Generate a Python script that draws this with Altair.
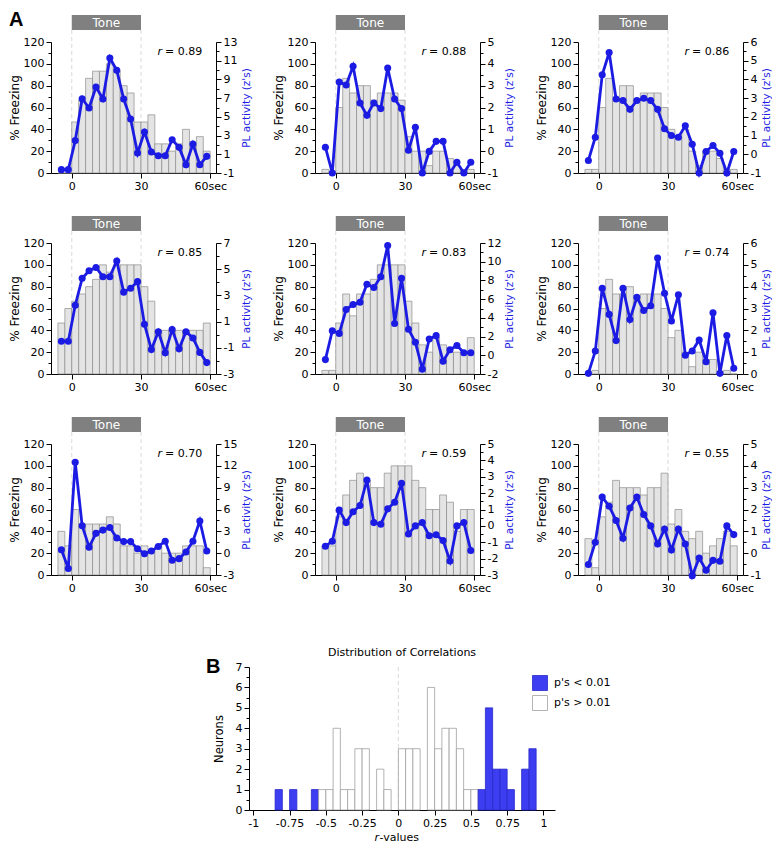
import altair as alt
import pandas as pd

# ---------------- data: panel A ----------------
bin_start = [-6, -3, 0, 3, 6, 9, 12, 15, 18, 21, 24, 27, 30, 33, 36, 39, 42, 45, 48, 51, 54, 57]
tone_start = 0
tone_end = 30
x_tick_values = [0, 30, 60]
freeze_tick_values = [0, 10, 20, 30, 40, 50, 60, 70, 80, 90, 100, 110, 120]

r_labels = ["0.89", "0.88", "0.86", "0.85", "0.83", "0.74", "0.70", "0.59", "0.55"]
pl_domains = [[-1, 13], [-1, 5], [-1, 6], [-3, 7], [-2, 12], [0, 6], [-3, 15], [-3, 5], [-1, 5]]
pl_label_steps = [2, 1, 1, 2, 2, 1, 3, 1, 1]

freeze_1 = [0, 0, 46.7, 66.7, 86.7, 93.3, 93.3, 100, 93.3, 80, 73.3, 46.7, 46.7, 53.3, 26.7, 26.7, 20, 26.7, 40, 26.7, 33.3, 20]
pl_1 = [-0.64, -0.64, 2.46, 6.94, 5.95, 8.19, 6.91, 11.29, 9.97, 6.91, 4.77, 1.14, 3.38, 1.24, 0.85, 0.85, 2.56, 1.74, -0.11, 2.10, -0.11, 0.78]

freeze_2 = [3.3, 0, 60, 86.7, 73.3, 80, 80, 66.7, 73.3, 73.3, 73.3, 66.7, 33.3, 20, 20, 6.7, 20, 20, 13.3, 6.7, 3.3, 3.3]
pl_2 = [0.18, -1, 3.17, 3.03, 3.89, 2.21, 1.64, 2.21, 1.95, 3.81, 2.39, 1.95, 0.04, 1.09, -1, -0.01, 0.45, 0.45, -1, -0.51, -1, -0.51]

freeze_3 = [3.3, 3.3, 60, 86.7, 66.7, 80, 80, 66.7, 73.3, 73.3, 73.3, 60, 40, 33.3, 40, 20, 6.7, 20, 20, 13.3, 3.3, 3.3]
pl_3 = [-0.33, 0.91, 4.25, 5.44, 2.95, 2.87, 2.40, 2.87, 2.99, 2.87, 2.40, 1.36, 1.0, 0.91, 1.52, 0.54, -1, 0.15, 0.47, 0.06, -1, 0.15]

freeze_4 = [46.7, 60, 66.7, 73.3, 80, 86.7, 100, 93.3, 100, 100, 100, 100, 80, 66.7, 40, 40, 40, 40, 40, 40, 40, 46.7]
pl_4 = [-0.5, -0.5, 2.25, 4.3, 4.88, 5.13, 4.43, 4.43, 5.63, 3.25, 3.55, 4.05, 0.8, -1.13, 0.23, -1.38, 0.4, -1.08, 0.23, -0.25, -1.35, -2.13]

freeze_5 = [3.3, 3.3, 46.7, 73.3, 53.3, 73.3, 73.3, 86.7, 100, 100, 100, 100, 66.7, 46.7, 26.7, 20, 33.3, 26.7, 20, 20, 20, 33.3]
pl_5 = [-0.46, 2.62, 2.34, 4.9, 5.42, 5.67, 7.59, 7.24, 8.4, 11.72, 3.39, 8.22, 2.79, 1.39, -1.48, 1.74, 2.1, -0.63, 0.59, 1.05, 0.28, 0.28]

freeze_6 = [0, 3.3, 60, 86.7, 73.3, 73.3, 80, 66.7, 73.3, 73.3, 73.3, 60, 33.3, 40, 20, 6.7, 20, 13.3, 13.3, 0, 3.3, 0]
pl_6 = [0.03, 1.05, 3.93, 2.73, 1.53, 3.93, 2.5, 3.51, 2.91, 3.13, 5.31, 3.7, 2.43, 3.63, 0.86, 1.05, 1.56, 0.56, 2.8, 0.03, 1.76, 0.26]

freeze_7 = [40, 26.7, 60, 46.7, 46.7, 46.7, 46.7, 53.3, 46.7, 26.7, 26.7, 20, 26.7, 20, 26.7, 20, 20, 20, 26.7, 26.7, 26.7, 6.7]
pl_7 = [0.47, -2.1, 12.5, 3.76, 0.83, 2.72, 3.17, 3.53, 2.09, 1.59, 1.59, 0.6, -0.07, 0.29, 0.92, 1.64, -0.97, -0.75, 0.15, 1.64, 4.43, 0.29]

freeze_8 = [26.7, 26.7, 53.3, 73.3, 86.7, 93.3, 86.7, 80, 80, 93.3, 100, 100, 100, 86.7, 80, 60, 60, 73.3, 66.7, 40, 60, 60]
pl_8 = [-1.24, -0.94, 0.96, 0.2, 0.86, 1.24, 2.8, 0.2, 0.1, 1.04, 1.44, 2.6, -0.5, 0.0, 0.2, -0.6, -0.54, -0.9, -2.14, 0.0, 0.2, -1.5]

freeze_9 = [33.3, 6.7, 53.3, 66.7, 86.7, 80, 80, 80, 73.3, 80, 80, 93.3, 46.7, 60, 40, 33.3, 40, 20, 26.7, 33.3, 40, 26.7]
pl_9 = [-0.52, 0.5, 2.57, 2.15, 1.5, 0.68, 2.07, 2.57, 1.77, 1.25, 0.42, 1.1, 0.15, 1.1, 0.42, -1.03, -0.22, -0.78, -0.33, -0.37, 1.25, 0.85]

# ---------------- data: panel B ----------------
hist_bin_start = [-0.85, -0.75, -0.60, -0.55, -0.50, -0.45, -0.40, -0.35, -0.30, -0.25, -0.15, -0.10,
                  0.00, 0.05, 0.10, 0.20, 0.25, 0.30, 0.35, 0.40, 0.45, 0.50,
                  0.55, 0.60, 0.65, 0.70, 0.75, 0.85, 0.90]
hist_counts = [1, 1, 1, 1, 1, 4, 1, 1, 3, 3, 2, 1,
               3, 3, 3, 6, 3, 4, 4, 3, 1, 1,
               1, 5, 2, 2, 1, 2, 3]
hist_significant = [True, True, True, False, False, False, False, False, False, False, False, False,
                    False, False, False, False, False, False, False, False, False, False,
                    True, True, True, True, True, True, True]
hist_x_ticks = [-1, -0.75, -0.5, -0.25, 0, 0.25, 0.5, 0.75, 1]
SIG = "p's < 0.01"
NS = "p's > 0.01"

# ---------------- styling ----------------
W, H = 165, 131
XDOM = [-9, 62.5]
BLUE = "#1b1be3"
HIST_BLUE = "#3d3df2"
HIST_EDGE = "#2828c8"
FONT = "DejaVu Sans"
BOLD_FONT = "Liberation Sans"
RIGHT_TITLE_X = [25, 24, 18]


def major_test(lo, step):
    return f"abs((datum.value - ({lo})) % {step}) < 0.001"


def tick_list(lo, hi, step):
    out = []
    k = 0
    while lo + k * step <= hi + 1e-9:
        out.append(round(lo + k * step, 6))
        k += 1
    return out


def one_row():
    return pd.DataFrame({"a": [0]})


def panel(freeze, pl, r_label, dom, step, col, first=False):
    df = pd.DataFrame({"t0": bin_start, "freeze": freeze, "pl": pl})
    xs = alt.Scale(domain=XDOM, nice=False, zero=False)
    lo, hi = dom
    x_axis = alt.Axis(values=x_tick_values, title=None,
                      labelExpr="datum.value == 60 ? '60sec' : '' + datum.value",
                      tickSize=5, labelPadding=2, labelFlush=False, labelOverlap=False)
    left_axis = alt.Axis(values=freeze_tick_values,
                         labelExpr=f"{major_test(0, 20)} ? '' + datum.value : ''",
                         tickSize={"condition": {"test": major_test(0, 20), "value": 5}, "value": 3},
                         title="% Freezing", titleAngle=270, titleX=-42, titleY=H / 2,
                         titleAlign="center", titleBaseline="top",
                         labelPadding=2, labelOverlap=False, labelFlush=False)
    right_axis = alt.Axis(orient="right", values=tick_list(lo, hi, step / 2),
                          labelExpr=f"{major_test(lo, step)} ? '' + datum.value : ''",
                          tickSize={"condition": {"test": major_test(lo, step), "value": 5}, "value": 3},
                          title="PL activity (z's)", titleColor=BLUE, titleAngle=270,
                          titleX=RIGHT_TITLE_X[col], titleY=H / 2, titleAlign="center",
                          titleBaseline="top", titleFontSize=10.5,
                          labelPadding=2, labelOverlap=False, labelFlush=False)

    tone_df = pd.DataFrame({"a": [tone_start], "b": [tone_end]})
    rules = alt.Chart(pd.DataFrame({"t": [tone_start, tone_end]})).mark_rule(
        color="#cfcfcf", strokeDash=[4, 3], strokeWidth=0.8
    ).encode(x=alt.X("t:Q", scale=xs, axis=x_axis), y=alt.value(-12), y2=alt.value(H))
    tone = alt.Chart(tone_df).mark_rect(color="#808080").encode(
        x=alt.X("a:Q", scale=xs, axis=x_axis), x2="b:Q", y=alt.value(-27), y2=alt.value(-12))
    tone_txt = alt.Chart(tone_df).transform_calculate(m="(datum.a + datum.b) / 2").mark_text(
        text="Tone", color="white", font=FONT, fontSize=12, baseline="middle", align="center"
    ).encode(x=alt.X("m:Q", scale=xs, axis=x_axis), y=alt.value(-19))
    bars = alt.Chart(df).transform_calculate(t1="datum.t0 + 3").mark_bar(
        fill="#e4e4e4", stroke="#8c8c8c", strokeWidth=0.7
    ).encode(
        x=alt.X("t0:Q", scale=xs, axis=x_axis), x2="t1:Q",
        y=alt.Y("freeze:Q", scale=alt.Scale(domain=[0, 120], nice=False), axis=left_axis),
        y2=alt.datum(0),
    )
    line = alt.Chart(df).transform_calculate(tm="datum.t0 + 1.5").mark_line(
        color=BLUE, strokeWidth=2.8,
        point=alt.OverlayMarkDef(filled=True, size=50, color=BLUE, opacity=1)
    ).encode(
        x=alt.X("tm:Q", scale=xs, axis=x_axis),
        y=alt.Y("pl:Q", scale=alt.Scale(domain=dom, nice=False, zero=False), axis=right_axis),
    )
    r1 = alt.Chart(one_row()).mark_text(text="r", fontStyle="italic", font=FONT, fontSize=11,
                                        align="right", baseline="middle").encode(
        x=alt.value(111), y=alt.value(10))
    r2 = alt.Chart(one_row()).mark_text(text="= " + r_label, font=FONT, fontSize=11,
                                        align="left", baseline="middle").encode(
        x=alt.value(114), y=alt.value(10))
    layers = [rules, tone, tone_txt, bars, line, r1, r2]
    if first:
        layers.append(alt.Chart(one_row()).mark_text(text="A", font=BOLD_FONT, fontSize=20,
                                                     fontWeight="bold", align="left",
                                                     baseline="top").encode(
            x=alt.value(-42), y=alt.value(-32)))
    return alt.layer(*layers).resolve_scale(y="independent").properties(width=W, height=H)


freezes = [freeze_1, freeze_2, freeze_3, freeze_4, freeze_5, freeze_6, freeze_7, freeze_8, freeze_9]
pls = [pl_1, pl_2, pl_3, pl_4, pl_5, pl_6, pl_7, pl_8, pl_9]
panels = [panel(freezes[i], pls[i], r_labels[i], pl_domains[i], pl_label_steps[i], i % 3, first=(i == 0))
          for i in range(9)]
row1 = alt.hconcat(*panels[0:3], spacing=20)
row2 = alt.hconcat(*panels[3:6], spacing=20)
row3 = alt.hconcat(*panels[6:9], spacing=20)

# ---------------- histogram ----------------
HW, HH = 306, 143
hdf = pd.DataFrame({"r0": hist_bin_start, "n": hist_counts,
                    "grp": [SIG if s else NS for s in hist_significant]})
hx = alt.Scale(domain=[-1.03, 1.08], nice=False, zero=False)
hy = alt.Scale(domain=[0, 7], nice=False)
hx_axis = alt.Axis(values=hist_x_ticks, title=None, labelExpr="'' + datum.value",
                   tickSize=5, labelPadding=2, labelOverlap=False, labelFlush=False)
hy_axis = alt.Axis(values=tick_list(0, 7, 0.5), title="Neurons",
                   labelExpr=f"{major_test(0, 1)} ? '' + datum.value : ''",
                   tickSize={"condition": {"test": major_test(0, 1), "value": 5}, "value": 3},
                   titleAngle=270, titleX=-36, titleY=HH / 2, titleAlign="center", titleBaseline="top",
                   titleFontSize=11.5, labelPadding=2, labelOverlap=False, labelFlush=False)
hist_legend = alt.Legend(orient="none", legendX=283, legendY=8, title=None, symbolType="square",
                         symbolSize=225, symbolStrokeWidth=0.8, labelFont=FONT, labelFontSize=11,
                         rowPadding=0, padding=0, labelOffset=6)
zero_line = alt.Chart(pd.DataFrame({"z": [0]})).mark_rule(
    color="#cfcfcf", strokeDash=[4, 3], strokeWidth=0.8
).encode(x=alt.X("z:Q", scale=hx, axis=hx_axis), y=alt.value(0), y2=alt.value(HH))
hbars = alt.Chart(hdf).transform_calculate(r1="datum.r0 + 0.05").mark_bar(strokeWidth=0.8).encode(
    x=alt.X("r0:Q", scale=hx, axis=hx_axis), x2="r1:Q",
    y=alt.Y("n:Q", scale=hy, axis=hy_axis),
    y2=alt.datum(0),
    fill=alt.Fill("grp:N", scale=alt.Scale(domain=[SIG, NS], range=[HIST_BLUE, "white"]), legend=hist_legend),
    stroke=alt.Stroke("grp:N", scale=alt.Scale(domain=[SIG, NS], range=[HIST_EDGE, "#a0a0a0"]), legend=hist_legend),
)
htitle = alt.Chart(one_row()).mark_text(text="Distribution of Correlations", font=FONT, fontSize=11,
                                        align="center", baseline="middle").encode(
    x=alt.value(HW / 2), y=alt.value(-14))
hB = alt.Chart(one_row()).mark_text(text="B", font=BOLD_FONT, fontSize=20, fontWeight="bold",
                                    align="left", baseline="top").encode(x=alt.value(-43), y=alt.value(-10))
hr1 = alt.Chart(one_row()).mark_text(text="r", fontStyle="italic", font=FONT, fontSize=11,
                                     align="right", baseline="middle").encode(x=alt.value(130), y=alt.value(171))
hr2 = alt.Chart(one_row()).mark_text(text="-values", font=FONT, fontSize=11,
                                     align="left", baseline="middle").encode(x=alt.value(130.5), y=alt.value(171))
top_pad = alt.Chart(one_row()).mark_rule(color="white", strokeWidth=0.5).encode(
    x=alt.value(0), x2=alt.value(1), y=alt.value(-48), y2=alt.value(-48))
hist = alt.layer(top_pad, zero_line, hbars, htitle, hB, hr1, hr2).properties(width=HW, height=HH)

spacer = alt.Chart(one_row()).mark_point(opacity=0).encode(
    x=alt.value(0), y=alt.value(0)).properties(width=135, height=HH)
hist_row = alt.hconcat(spacer, hist, spacing=20).resolve_scale(fill="independent", stroke="independent")

chart = alt.vconcat(row1, row2, row3, hist_row, spacing=25).resolve_scale(
    fill="independent", stroke="independent"
).properties(
    padding={"left": 0, "top": 2, "right": 0, "bottom": 0}
).configure_view(stroke=None).configure_axis(
    labelFont=FONT, titleFont=FONT, labelFontSize=11, titleFontSize=12, titleFontWeight="normal",
    domainColor="black", tickColor="black", labelColor="black", titleColor="black",
    grid=False, domainWidth=1, tickWidth=1
)

chart.save("out.html", embed_options={"renderer": "svg", "actions": False})
